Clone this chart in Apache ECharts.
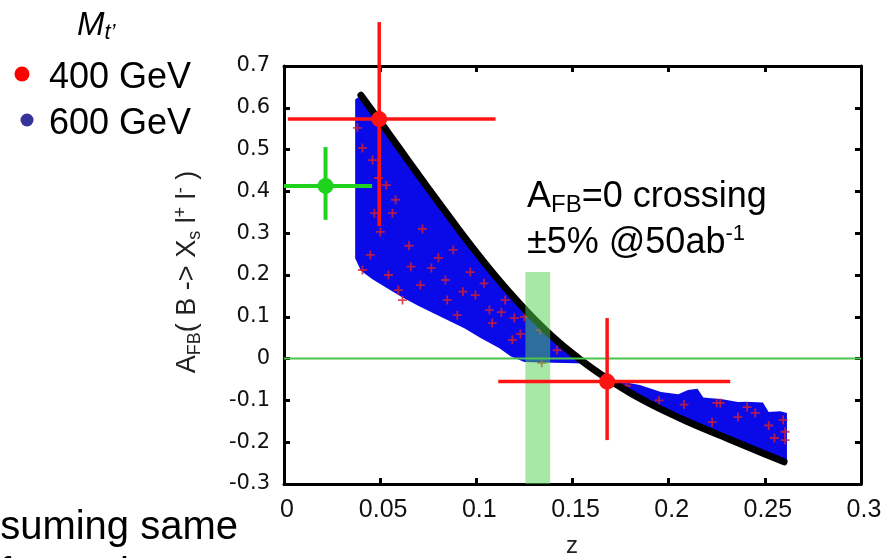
<!DOCTYPE html>
<html><head><meta charset="utf-8">
<script src="https://cdn.jsdelivr.net/npm/echarts@6/dist/echarts.min.js"></script>
<style>html,body{margin:0;padding:0;background:#fff;}#c{width:893px;height:558px;}</style>
</head><body><div id="c"></div>
<script>
// ---- data ----
const xTicks = [0, 0.05, 0.1, 0.15, 0.2, 0.25, 0.3];
const yTicks = [-0.3, -0.2, -0.1, 0, 0.1, 0.2, 0.3, 0.4, 0.5, 0.6, 0.7];

// black curve
const curveZ = [0.04, 0.05, 0.06, 0.07, 0.08, 0.09, 0.10, 0.11, 0.12, 0.13, 0.14, 0.15, 0.16, 0.17, 0.18, 0.19, 0.20, 0.21, 0.22, 0.23, 0.24, 0.25, 0.26];
const curveY = [0.630, 0.567, 0.503, 0.439, 0.376, 0.314, 0.254, 0.197, 0.144, 0.095, 0.051, 0.012, -0.023, -0.054, -0.082, -0.107, -0.130, -0.151, -0.171, -0.190, -0.209, -0.228, -0.247];

// outer edge of the blue (600 GeV) scan, from right end back to the left
const blueEdgeZ = [0.2615, 0.2615, 0.258, 0.252, 0.249, 0.240, 0.236, 0.228, 0.218, 0.215, 0.210, 0.205, 0.196, 0.185, 0.175, 0.166, 0.160, 0.157, 0.140, 0.125, 0.118, 0.112, 0.102, 0.094, 0.086, 0.078, 0.070, 0.061, 0.053, 0.046, 0.040, 0.037, 0.037];
const blueEdgeY = [-0.245, -0.13, -0.126, -0.128, -0.105, -0.103, -0.104, -0.097, -0.093, -0.072, -0.075, -0.085, -0.080, -0.063, -0.055, -0.045, -0.030, -0.012, -0.010, -0.008, 0.005, 0.025, 0.050, 0.072, 0.090, 0.108, 0.126, 0.148, 0.170, 0.190, 0.210, 0.24, 0.62];

// red (400 GeV) scan points
const redZ = [0.0382, 0.0408, 0.046, 0.0491, 0.0532, 0.047, 0.0564, 0.0501, 0.0449, 0.0408, 0.0543, 0.0595, 0.0616, 0.0709, 0.0766, 0.0803, 0.0839, 0.0849, 0.0901, 0.0969, 0.0995, 0.1068, 0.1083, 0.113, 0.1187, 0.1197, 0.1229, 0.115, 0.1332, 0.134, 0.2268, 0.2408, 0.225, 0.2595, 0.2605, 0.2226, 0.2605, 0.252, 0.245, 0.208, 0.195, 0.065, 0.072, 0.088, 0.093, 0.104, 0.058, 0.066, 0.125, 0.142, 0.178, 0.236, 0.255];
const redY = [0.552, 0.504, 0.475, 0.432, 0.415, 0.348, 0.348, 0.303, 0.248, 0.212, 0.2, 0.164, 0.14, 0.176, 0.217, 0.241, 0.188, 0.14, 0.104, 0.207, 0.152, 0.116, 0.085, 0.111, 0.045, 0.097, 0.059, 0.14, 0.068, -0.01, -0.106, -0.116, -0.106, -0.147, -0.175, -0.152, -0.195, -0.16, -0.13, -0.11, -0.1, 0.27, 0.31, 0.26, 0.16, 0.18, 0.38, 0.22, 0.1, 0.02, -0.065, -0.14, -0.19];

// measurement points with error bars: [z, y, zLow, zHigh, yLow, yHigh]
const redMeas = [[0.0495, 0.573, 0.002, 0.110, 0.317, 0.805], [0.168, -0.055, 0.1114, 0.232, -0.195, 0.097]];
const greenMeas = [[0.0216, 0.413, 0.0, 0.0458, 0.332, 0.506]];

// A_FB = 0 crossing band and zero line
const bandZ = [0.1255, 0.1384];
const bandY = [-0.3, 0.207];
const zeroLine = [[0, 0], [0.3, 0]];

// ---- chart ----
const curveData = curveZ.map((z, i) => [z, curveY[i]]);
const bluePoly = curveData.concat(blueEdgeZ.map((z, i) => [z, blueEdgeY[i]]));
const redData = redZ.map((z, i) => [z, redY[i]]);

const plusPath = 'path://M4,0h2v4h4v2h-4v4h-2v-4h-4v-2h4z';

function errRender(color, lw, r) {
  return function (params, api) {
    const c = api.coord([api.value(0), api.value(1)]);
    const l = api.coord([api.value(2), api.value(1)]);
    const rr = api.coord([api.value(3), api.value(1)]);
    const b = api.coord([api.value(0), api.value(4)]);
    const t = api.coord([api.value(0), api.value(5)]);
    const st = { stroke: color, lineWidth: lw };
    return { type: 'group', children: [
      { type: 'line', shape: { x1: l[0], y1: l[1], x2: rr[0], y2: rr[1] }, style: st },
      { type: 'line', shape: { x1: b[0], y1: b[1], x2: t[0], y2: t[1] }, style: st },
      { type: 'circle', shape: { cx: c[0], cy: c[1], r: r }, style: { fill: color } }
    ]};
  };
}

const axisCommon = {
  type: 'value', splitLine: { show: false },
  axisLine: { show: true, onZero: false, lineStyle: { color: '#000', width: 3 } },
  axisTick: { show: true, inside: true, length: 6, lineStyle: { color: '#000', width: 3 } }
};

const chart = echarts.init(document.getElementById('c'), null, { renderer: 'canvas' });
chart.setOption({
  backgroundColor: '#fff',
  animation: false,
  grid: { left: 284, right: 32, top: 66, bottom: 74 },
  xAxis: [
    Object.assign({}, axisCommon, { position: 'bottom', min: xTicks[0], max: xTicks[xTicks.length - 1], interval: 0.05,
      axisLabel: { fontSize: 25, fontFamily: 'Liberation Sans', color: '#111', margin: 14, padding: [0, 0, 0, 6],
        formatter: v => String(+v.toFixed(2)) } }),
    Object.assign({}, axisCommon, { position: 'top', min: xTicks[0], max: xTicks[xTicks.length - 1], interval: 0.05, axisLabel: { show: false } })
  ],
  yAxis: [
    Object.assign({}, axisCommon, { position: 'left', min: yTicks[0], max: yTicks[yTicks.length - 1], interval: 0.1,
      axisLabel: { fontSize: 21, fontFamily: 'DejaVu Sans', color: '#111', margin: 14,
        formatter: v => String(+v.toFixed(1)) } }),
    Object.assign({}, axisCommon, { position: 'right', min: yTicks[0], max: yTicks[yTicks.length - 1], interval: 0.1, axisLabel: { show: false } })
  ],
  series: [
    { type: 'custom', name: 'blue', clip: true, z: 1, data: bluePoly,
      renderItem: function (params, api) {
        if (params.dataIndex !== 0) return null;
        const pts = bluePoly.map(p => api.coord(p));
        return { type: 'polygon', shape: { points: pts, smooth: 0 }, style: { fill: '#0a0ae8' } };
      } },
    { type: 'scatter', name: 'red', z: 2, data: redData, symbol: plusPath, symbolSize: 9,
      itemStyle: { color: '#d8202c' }, silent: true },
    { type: 'line', name: 'curve', z: 3, data: curveData, smooth: 0.4, showSymbol: false, symbol: 'none',
      lineStyle: { color: '#000', width: 7, cap: 'round' } },
    { type: 'custom', name: 'band', z: 4, clip: true, data: [[bandZ[0], bandY[0], bandZ[1], bandY[1]]],
      renderItem: function (params, api) {
        const p0 = api.coord([api.value(0), api.value(1)]);
        const p1 = api.coord([api.value(2), api.value(3)]);
        return { type: 'rect', shape: { x: p0[0], y: p1[1], width: p1[0] - p0[0], height: p0[1] - p1[1] },
          style: { fill: 'rgba(80,210,80,0.5)' } };
      } },
    { type: 'line', name: 'zero', z: 5, data: zeroLine, showSymbol: false, symbol: 'none',
      lineStyle: { color: '#4cc44c', width: 2 } },
    { type: 'custom', name: 'redMeas', z: 6, clip: false, data: redMeas, renderItem: errRender('#ff1414', 3.5, 8) },
    { type: 'custom', name: 'greenMeas', z: 6, clip: false, data: greenMeas, renderItem: errRender('#1ed21e', 4, 8) }
  ],
  graphic: [
    { type: 'text', x: 77, y: 26, style: { text: '{m|M}{s|t’}', textVerticalAlign: 'middle',
      rich: { m: { fontSize: 33, fontStyle: 'italic', fontFamily: 'Liberation Sans', fill: '#000', lineHeight: 36, verticalAlign: 'middle' },
              s: { fontSize: 22, fontStyle: 'italic', fontFamily: 'Liberation Sans', fill: '#000', lineHeight: 16, verticalAlign: 'bottom' } } } },
    { type: 'circle', shape: { cx: 22, cy: 74, r: 7.5 }, style: { fill: '#ff0000' } },
    { type: 'circle', shape: { cx: 27, cy: 120, r: 6.5 }, style: { fill: '#333399' } },
    { type: 'text', x: 49, y: 78, style: { text: '400 GeV', font: '36px "Liberation Sans"', fill: '#000', textVerticalAlign: 'middle' } },
    { type: 'text', x: 49, y: 124, style: { text: '600 GeV', font: '36px "Liberation Sans"', fill: '#000', textVerticalAlign: 'middle' } },
    { type: 'text', x: 527, y: 197, style: { text: '{a|A}{s|FB}{a|=0 crossing}', textVerticalAlign: 'middle',
      rich: { a: { fontSize: 36, fontFamily: 'Liberation Sans', fill: '#000', lineHeight: 40, verticalAlign: 'middle' },
              s: { fontSize: 24, fontFamily: 'Liberation Sans', fill: '#000', lineHeight: 14, verticalAlign: 'bottom' } } } },
    { type: 'text', x: 527, y: 243, style: { text: '{a|±5% @50ab}{p|-1}', textVerticalAlign: 'middle',
      rich: { a: { fontSize: 36, fontFamily: 'Liberation Sans', fill: '#000', lineHeight: 40, verticalAlign: 'middle' },
              p: { fontSize: 22, fontFamily: 'Liberation Sans', fill: '#000', lineHeight: 26, verticalAlign: 'top' } } } },
    { type: 'text', x: 188, y: 272, rotation: Math.PI / 2, style: { text: '{a|A}{s|FB}{a|( B -> X}{s|s}{a| l}{p|+}{a| l}{p|-}{a| )}',
      textAlign: 'center', textVerticalAlign: 'middle',
      rich: { a: { fontSize: 27, fontFamily: 'Liberation Sans', fill: '#222', lineHeight: 32, verticalAlign: 'middle' },
              s: { fontSize: 18, fontFamily: 'Liberation Sans', fill: '#222', lineHeight: 12, verticalAlign: 'bottom' },
              p: { fontSize: 18, fontFamily: 'Liberation Sans', fill: '#222', lineHeight: 12, verticalAlign: 'top' } } } },
    { type: 'text', x: 572, y: 546, style: { text: 'z', font: '24px "Liberation Sans"', fill: '#222', textAlign: 'center', textVerticalAlign: 'middle' } },
    { type: 'text', x: 238, y: 528, style: { text: 'Assuming same', font: '40px "Liberation Sans"', fill: '#000', textAlign: 'right', textVerticalAlign: 'middle' } },
    { type: 'text', x: 0, y: 575, style: { text: 'for excl', font: '40px "Liberation Sans"', fill: '#000', textAlign: 'left', textVerticalAlign: 'middle' } }
  ]
});
</script></body></html>
